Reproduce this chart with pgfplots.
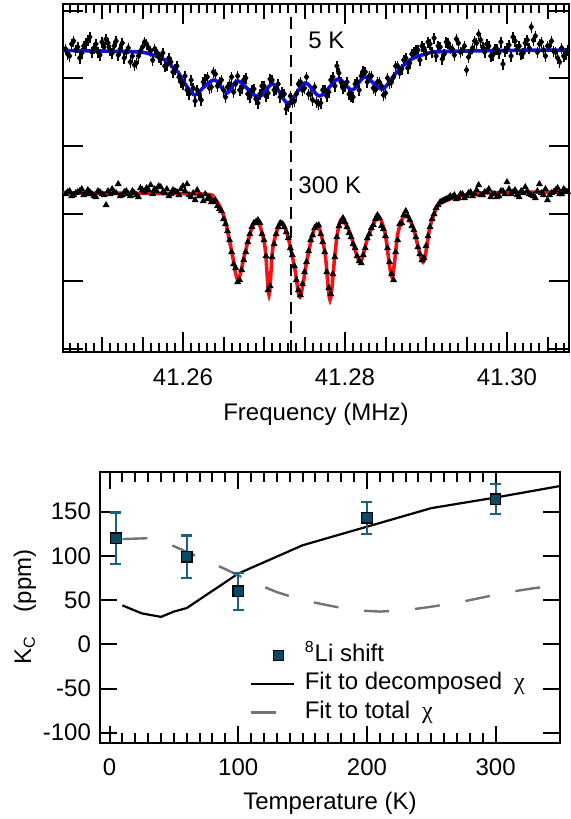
\documentclass[border=0pt]{standalone}
\usepackage{fontspec}
\setmainfont{Liberation Sans}
\newfontfamily\greekfont{Liberation Serif}
\usepackage{pgfplots}
\usepackage{pgfplotstable}
\pgfplotsset{compat=1.18}

\definecolor{fitblue}{RGB}{15,15,230}
\definecolor{fitred}{RGB}{240,20,20}
\definecolor{shiftfill}{RGB}{10,72,100}
\definecolor{shifterr}{RGB}{28,96,128}
\definecolor{totalgray}{RGB}{115,115,115}

\pgfplotsset{
  shiftlegend/.style={legend image code/.code={\draw[##1] plot coordinates {(14pt,0pt)};}},
  linelegend/.style={legend image code/.code={\draw[##1] (0pt,0pt) -- (21.5pt,0pt);}},
}

% Resonance spectra: frequency as offset from 41.26 MHz (kHz), amplitudes in arbitrary units
\pgfplotstableread{
df     y5   y300
-14.5  303  158
-14.25 298  160
-14.0  296  161
-13.75 308  156
-13.5  311  157
-13.25 302  159
-13.0  305  160
-12.75 294  161
-12.5  299  163
-12.25 306  157
-12.0  309  158
-11.75 312  162
-11.5  315  160
-11.25 300  158
-11.0  304  156
-10.75 308  155
-10.5  300  161
-10.25 297  160
-10.0  310  158
-9.75  305  157
-9.5   313  147
-9.25  309  161
-9.0   302  158
-8.75  299  163
-8.5   306  160
-8.25  311  159
-8.0   297  168
-7.75  303  156
-7.5   309  157
-7.25  294  160
-7.0   300  161
-6.75  304  158
-6.5   290  156
-6.25  296  161
-6.0   287  159
-5.75  289  157
-5.5   296  155
-5.25  301  164
-5.0   305  162
-4.75  310  160
-4.5   308  164
-4.25  304  162
-4.0   301  167
-3.75  292  158
-3.5   303  163
-3.25  300  161
-3.0   295  166
-2.75  293  165
-2.5   299  160
-2.25  286  159
-2.0   287  163
-1.75  294  156
-1.5   290  158
-1.25  280  162
-1.0   283  161
-0.75  286  160
-0.5   275  157
-0.25  270  163
0.0    268  166
0.25   276  161
0.5    262  168
0.75   258  157
1.0    272  155
1.25   264  159
1.5    251  152
1.75   262  162
2.0    258  156
2.25   252  156
2.5    270  151
2.75   273  158
3.0    275  153
3.25   264  155
3.5    265  150
3.75   280  150
4.0    278  152
4.25   266  146
4.5    270  143
4.75   272  141
5.0    262  133
5.25   255  128
5.5    265  121
5.75   268  112
6.0    275  100
6.25   260  88
6.5    268  84
6.75   276  70
7.0    262  72
7.25   264  82
7.5    272  92
7.75   274  100
8.0    258  110
8.25   255  118
8.5    262  125
8.75   263  129
9.0    253  130
9.25   249  132
9.5    258  129
9.75   266  118
10.0   266  112
10.25  256  96
10.5   259  62
10.75  273  66
11.0   272  95
11.25  262  108
11.5   263  118
11.75  268  125
12.0   255  129
12.25  260  128
12.5   258  125
12.75  243  120
13.0   246  114
13.25  256  104
13.5   250  97
13.75  251  86
14.0   258  72
14.25  268  62
14.5   270  57
14.75  262  68
15.0   264  80
15.25  275  90
15.5   258  101
15.75  258  112
16.0   252  117
16.25  265  124
16.5   250  126
16.75  248  127
17.0   249  118
17.25  262  110
17.5   262  100
17.75  256  80
18.0   260  64
18.25  272  58
18.5   275  78
18.75  266  95
19.0   286  115
19.25  279  126
19.5   270  130
19.75  264  134
20.0   266  130
20.25  270  125
20.5   258  119
20.75  256  115
21.0   255  108
21.25  268  104
21.5   270  96
21.75  262  91
22.0   276  89
22.25  281  97
22.5   280  104
22.75  270  114
23.0   276  118
23.25  276  124
23.5   264  127
23.75  262  133
24.0   270  137
24.25  270  134
24.5   266  126
24.75  257  123
25.0   259  116
25.25  274  104
25.5   269  90
25.75  270  78
26.0   275  72
26.25  286  100
26.5   286  112
26.75  279  128
27.0   283  129
27.25  292  137
27.5   294  141
27.75  284  136
28.0   289  132
28.25  298  126
28.5   300  122
28.75  302  115
29.0   302  105
29.25  292  98
29.5   306  92
29.75  304  94
30.0   298  106
30.25  310  116
30.5   308  125
30.75  300  133
31.0   314  138
31.25  296  144
31.5   306  147
31.75  305  150
32.0   293  151
32.25  298  152
32.5   310  153
32.75  309  154
33.0   304  156
33.25  303  155
33.5   297  157
33.75  313  153
34.0   309  154
34.25  300  158
34.5   302  158
34.75  306  154
35.0   282  156
35.25  295  159
35.5   300  160
35.75  304  156
36.0   311  158
36.25  309  162
36.5   318  167
36.75  312  157
37.0   305  157
37.25  300  160
37.5   308  160
37.75  306  163
38.0   296  155
38.25  297  158
38.5   303  158
38.75  303  155
39.0   299  156
39.25  310  161
39.5   288  161
39.75  301  158
40.0   304  170
40.25  307  163
40.5   296  158
40.75  315  160
41.0   311  162
41.25  303  157
41.5   306  155
41.75  298  161
42.0   299  159
42.25  309  165
42.5   312  161
42.75  304  158
43.0   325  157
43.25  312  156
43.5   316  154
43.75  300  161
44.0   308  168
44.25  310  159
44.5   302  157
44.75  296  163
45.0   306  152
45.25  306  157
45.5   311  159
45.75  301  160
46.0   300  162
46.25  294  164
46.5   290  158
46.75  304  158
47.0   296  163
47.25  298  161
47.5   302  160
}\spectra

% Knight shift versus temperature
\pgfplotstableread{
T    K    dK
5    120  29
60   99   24
100  60   21
200  143  18
300  164  17
}\shift

\begin{document}
\begin{tikzpicture}[font=\fontsize{12}{14}\selectfont]
\path[use as bounding box] (0pt,0pt) rectangle (285pt,-409.5pt);

% ---------- spectra ----------
\begin{axis}[
  at={(31.5pt,-176pt)}, anchor=south west,
  scale only axis, width=253pt, height=174pt,
  xmin=-14.815, xmax=47.654, ymin=0, ymax=348,
  axis line style={line width=1pt},
  tick style={line width=1pt, black},
  tick align=inside,
  major tick length=10pt, minor tick length=4.5pt,
  xtick={0,20,40}, xticklabels={41.26,41.28,41.30},
  minor xtick={-14,-13,...,47},
  extra x ticks={-10,-5,5,10,15,25,30,35,45},
  extra x tick labels={},
  extra x tick style={major tick length=7.5pt},
  ytick={3,70.7,138.4,206.1,273.8,341.5}, yticklabels={},
  xticklabel style={yshift=-5pt},
  xlabel={Frequency (MHz)},
  xlabel style={at={(axis description cs:0.5,-0.1264)}, anchor=north},
]
\addplot[only marks, mark=diamond*, mark size=1.5pt, black,
  error bars/.cd, y dir=both, y fixed=5.5, error mark=none,
  error bar style={line width=0.8pt, black}]
  table[x=df, y=y5] {\spectra};
\addplot[only marks, mark=triangle*, mark size=1.6pt, black]
  table[x=df, y=y300] {\spectra};
\addplot[fitblue, line width=1.8pt, smooth, tension=0.5] coordinates {
  (-14.81,301.5) (-10.25,301) (-5.56,300) (-4.07,298) (-2.22,292) (-1.36,285.5)
  (-0.62,280) (-0.12,273) (0.62,264) (1.48,257) (2.72,266) (3.95,272) (5.43,259)
  (6.79,271) (9.26,255) (11.11,268) (12.96,249) (15.06,269) (16.91,256) (19.14,273)
  (20.86,262) (22.47,275) (24.57,263) (26.30,279) (28.02,292) (30.12,298.5)
  (31.73,300.3) (39.14,301.5) (47.65,302)};
\addplot[fitred, line width=1.8pt, smooth, tension=0.5] coordinates {
  (-14.81,159) (2.10,158) (3.58,154) (4.32,149) (5.19,132) (6.05,99) (6.79,72)
  (7.65,99) (8.52,124) (9.26,131) (10.12,105) (10.62,57) (11.11,105) (12.10,130)
  (12.96,115) (13.83,82) (14.44,55) (15.31,92) (16.05,119) (16.67,127) (17.53,99)
  (18.15,52) (18.77,99) (19.14,122) (19.63,133) (20.62,119) (21.85,90) (22.84,115)
  (24.07,135) (24.94,119) (25.80,75) (26.54,119) (27.41,137) (28.40,125) (29.63,90)
  (30.49,125) (31.36,145) (32.10,150) (33.83,155) (37.04,159) (47.65,160)};
\addplot[black, line width=1.2pt, dash pattern=on 6pt off 3.5pt] coordinates {(13.30,0) (13.30,337)};
\node[anchor=west, inner sep=0pt] at (axis cs:15.43,312) {5 K};
\node[anchor=west, inner sep=0pt] at (axis cs:14.20,167) {300 K};
\end{axis}

% ---------- Knight shift ----------
\begin{axis}[
  at={(50pt,-371.35pt)}, anchor=south west,
  scale only axis, width=230pt, height=135.5pt,
  xmin=-7.4, xmax=350, ymin=-111.3, ymax=195.2,
  axis line style={line width=1pt},
  tick style={line width=1pt, black},
  tick align=inside,
  major tick length=8.5pt, minor tick length=5pt,
  xtick={0,100,200,300}, xticklabels={0,100,200,300},
  minor x tick num=9,
  ytick={-100,-50,0,50,100,150}, yticklabels={-100,-50,0,50,100,150},
  xticklabel style={yshift=-4.35pt},
  yticklabel style={xshift=-1pt},
  xlabel={Temperature (K)},
  xlabel style={at={(axis description cs:0.5,-0.156)}, anchor=north},
  ylabel={K\textsubscript{C}\hspace{1em}(ppm)},
  ylabel style={at={(axis description cs:-0.163,0.5)}, anchor=center},
  legend cell align=left,
  legend style={at={(0.3239,0.3679)}, anchor=north west, draw=none, fill=none,
    inner sep=0pt, column sep=5pt, row sep=2.25pt,
    nodes={inner sep=0pt, text height=9pt, text depth=3pt},
    font=\fontsize{12}{14}\selectfont},
]
\addlegendimage{only marks, mark=square*, mark size=2.6pt,
  mark options={fill=shiftfill, draw=black, line width=0.6pt}, shiftlegend}
\addlegendentry{\textsuperscript{8}Li shift}
\addplot[black, line width=1.1pt, linelegend] coordinates {
  (10,44) (25,35) (40,31) (50,37) (60,41) (100,80) (150,112)
  (200,133) (250,154) (300,166) (350,179)};
\addlegendentry{Fit to decomposed\hspace{0.5em}{\greekfont χ}}
\addplot[totalgray, line width=1.2pt, dash pattern=on 12.5pt off 13pt, linelegend] coordinates {
  (10,119) (30,120) (50,111) (70,98) (90,85) (110,71) (130,59) (150,50) (170,44)
  (190,38.5) (210,37) (230,38.5) (250,42.5) (270,47) (290,53) (310,59) (330,63.5) (350,67)};
\addlegendentry{Fit to total\hspace{0.5em}{\greekfont χ}}
\addplot[forget plot, only marks, mark=square*, mark size=2.6pt,
  mark options={fill=shiftfill, draw=black, line width=0.6pt},
  error bars/.cd, y dir=both, y explicit,
  error bar style={shifterr, line width=1.1pt},
  error mark options={shifterr, line width=1.1pt, mark size=2.75pt, rotate=90}]
  table[x=T, y=K, y error=dK] {\shift};
\end{axis}
\end{tikzpicture}
\end{document}
